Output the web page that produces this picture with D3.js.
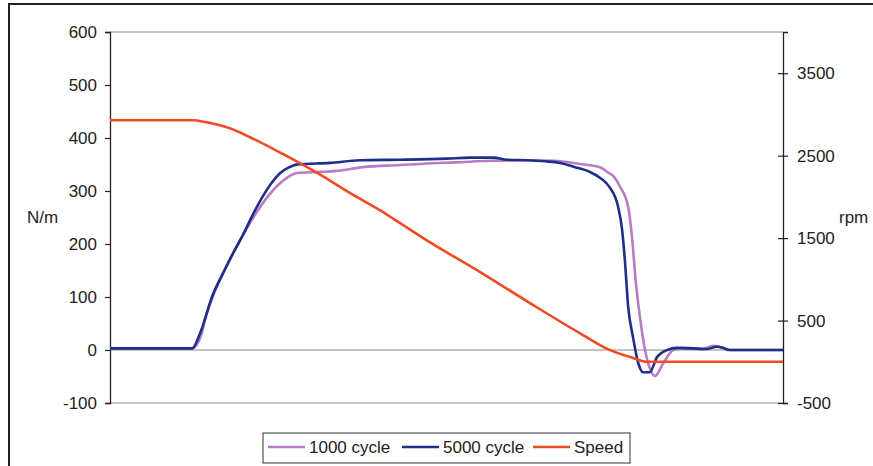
<!DOCTYPE html>
<html>
<head>
<meta charset="utf-8">
<script src="https://cdn.jsdelivr.net/npm/d3@7"></script>
<style>
  body { margin: 0; background: #fff; }
  svg text { font-family: "Liberation Sans", Arial, sans-serif; fill: #222; }
</style>
</head>
<body>
<svg id="chart" width="873" height="466"></svg>
<script>
// time axis is unlabelled, 0..100 across the plot
const cycle1000Time = [0, 12.2, 13.6, 14.1, 15.5, 17.8, 20.8, 22.7, 25.3, 27.8, 31.2, 33.6, 37.6, 43.1, 47.1, 51.3, 56.5, 62, 66.1, 69.8, 72.8, 74, 75, 75.8, 77.0, 77.6, 78.1, 78.8, 79.5, 80.2, 81.0, 82.2, 83.7, 85.2, 88.1, 89.6, 91.1, 91.7, 100];
const cycle1000Vals = [3, 3, 30, 57, 108, 170, 240, 277, 315, 334, 336, 338, 345, 349, 352, 354, 357, 358, 357, 351, 345, 335, 325, 308, 270, 208, 132, 57, 0, -34, -49, -25, 0, 4, 2, 8, 4, 0, 0];

const cycle5000Time = [0, 12.2, 13.4, 15.3, 16.8, 18.3, 19.8, 21.2, 22.7, 24, 25.3, 26.5, 27.8, 32.7, 37.1, 43.1, 50, 53.5, 57, 59, 62, 64.6, 66.9, 69.1, 71.3, 72.8, 74.3, 75.5, 76.1, 76.5, 77.0, 77.7, 78.5, 79.2, 80.2, 81.3, 82.8, 84.2, 88.7, 90.2, 91.1, 92.1, 100];
const cycle5000Vals = [3, 3, 32, 105, 145, 183, 218, 255, 290, 315, 334, 344, 350, 353, 358, 359, 361, 363, 363, 359, 358, 356, 353, 345, 336, 325, 306, 270, 226, 170, 81, 25, -25, -42, -42, -13, 0, 4, 2, 6, 4, 0, 0];

const speedTime = [0, 12.6, 13.4, 16.3, 17.8, 20.8, 25.7, 27.2, 30.8, 35.7, 40.1, 42.3, 47.5, 55.0, 62.4, 69.8, 74.3, 77.3, 79.8, 100];
const speedVals = [2930, 2930, 2918, 2870, 2833, 2724, 2520, 2455, 2290, 2045, 1839, 1725, 1451, 1088, 712, 348, 142, 58, 0, 0];

const leftTicks = [-100, 0, 100, 200, 300, 400, 500, 600];
const rightTicks = [-500, 500, 1500, 2500, 3500];

const seriesNames = ["1000 cycle", "5000 cycle", "Speed"];
const seriesColors = ["#b77cc3", "#1f2e88", "#f24a22"];

const svg = d3.select("#chart");
const plot = {left: 110, right: 783, top: 32, bottom: 403};

// outer frame, cut by the picture edge
svg.append("rect")
    .attr("x", 9).attr("y", 4).attr("width", 900).attr("height", 500)
    .attr("fill", "none").attr("stroke", "#222").attr("stroke-width", 2);

const x = d3.scaleLinear().domain([0, 100]).range([plot.left, plot.right]);
const yL = d3.scaleLinear().domain([-100, 600]).range([plot.bottom, plot.top]);
const yR = d3.scaleLinear().domain([-500, 4000]).range([plot.bottom, plot.top]);

// horizontal lines: top, bottom, zero
[600, -100, 0].forEach(v => {
    svg.append("line")
        .attr("x1", plot.left).attr("x2", plot.right)
        .attr("y1", yL(v)).attr("y2", yL(v))
        .attr("stroke", "#8a8a8a").attr("stroke-width", 1.2);
});

// left axis
const gL = svg.append("g").attr("transform", `translate(${plot.left},0)`)
    .call(d3.axisLeft(yL).tickValues(leftTicks).tickSize(5).tickPadding(8).tickFormat(d => String(d)));
// right axis, ticks cross the line
const gR = svg.append("g").attr("transform", `translate(${plot.right},0)`)
    .call(d3.axisRight(yR).tickValues(rightTicks).tickSize(5).tickPadding(9).tickFormat(d => String(d)));
gR.selectAll(".tick line").attr("x1", -5);

[gL, gR].forEach(g => {
    g.select(".domain").attr("stroke", "#222").attr("stroke-width", 1.3);
    g.selectAll(".tick line").attr("stroke", "#222").attr("stroke-width", 1.2);
    g.selectAll(".tick text").attr("font-size", 17).attr("fill", "#222")
        .attr("font-family", "'Liberation Sans', Arial, sans-serif");
});

svg.append("text").attr("x", 27).attr("y", 223).attr("font-size", 17).text("N/m");
svg.append("text").attr("x", 839).attr("y", 223).attr("font-size", 17).text("rpm");

const lineL = d3.line().x(d => x(d[0])).y(d => yL(d[1])).curve(d3.curveMonotoneX);
const lineR = d3.line().x(d => x(d[0])).y(d => yR(d[1])).curve(d3.curveMonotoneX);

const series = [
    {data: d3.zip(cycle1000Time, cycle1000Vals), line: lineL},
    {data: d3.zip(cycle5000Time, cycle5000Vals), line: lineL},
    {data: d3.zip(speedTime, speedVals), line: lineR}
];

series.forEach((s, i) => {
    svg.append("path")
        .attr("d", s.line(s.data))
        .attr("fill", "none")
        .attr("stroke", seriesColors[i])
        .attr("stroke-width", 2.6)
        .attr("stroke-linejoin", "round");
});

// legend
const legend = svg.append("g");
legend.append("rect")
    .attr("x", 263).attr("y", 433).attr("width", 367).attr("height", 30)
    .attr("fill", "#fff").attr("stroke", "#333").attr("stroke-width", 1);
const legendX = [268, 402, 533];
seriesNames.forEach((name, i) => {
    legend.append("line")
        .attr("x1", legendX[i]).attr("x2", legendX[i] + 37)
        .attr("y1", 447).attr("y2", 447)
        .attr("stroke", seriesColors[i]).attr("stroke-width", 2.6);
    legend.append("text")
        .attr("x", legendX[i] + 41).attr("y", 453)
        .attr("font-size", 17).text(name);
});
</script>
</body>
</html>
